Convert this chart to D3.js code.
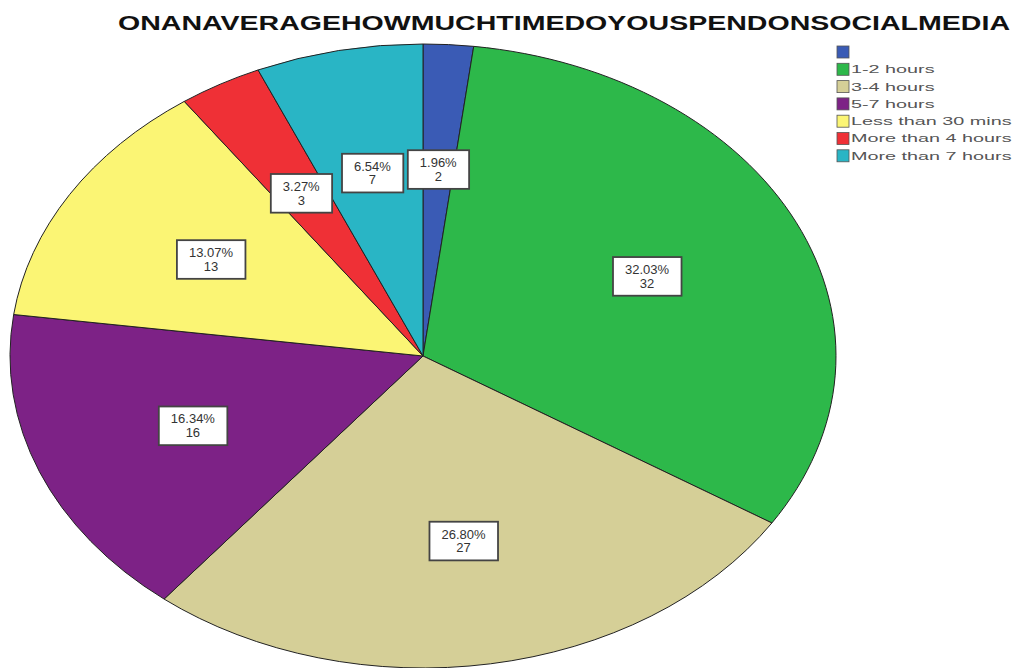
<!DOCTYPE html>
<html>
<head>
<meta charset="utf-8">
<script src="https://cdn.jsdelivr.net/npm/d3@7"></script>
<style>
  body { margin: 0; background: #fff; }
  text { font-family: Arial, "Liberation Sans", sans-serif; }
</style>
</head>
<body>
<svg id="chart" width="1019" height="668"></svg>
<script>
// categorias e valores
const categorias = ["", "1-2 hours", "3-4 hours", "5-7 hours", "Less than 30 mins", "More than 4 hours", "More than 7 hours"];
const contagens = [2, 32, 27, 16, 13, 3, 7];
const percentuais = [1.96, 32.03, 26.80, 16.34, 13.07, 3.27, 6.54];
const cores = ["#3a5bb5", "#2db84a", "#d5cf97", "#7d2286", "#fbf574", "#ef3036", "#29b5c5"];
const titulo = "ONANAVERAGEHOWMUCHTIMEDOYOUSPENDONSOCIALMEDIA";

const svg = d3.select("#chart");

const dados = categorias.map((c, i) => ({ cat: c, n: contagens[i], pct: percentuais[i], cor: cores[i] }));

// pizza desenhada como circulo e esticada em elipse (como na imagem)
const cx = 423, cy = 356, rx = 413, ry = 312;
const r = ry;

const pie = d3.pie().value(d => d.pct).sort(null);
const arc = d3.arc().innerRadius(0).outerRadius(r);
const arcs = pie(dados);

const g = svg.append("g")
    .attr("transform", `translate(${cx},${cy}) scale(${rx / r},1)`);

g.selectAll("path")
    .data(arcs)
    .enter().append("path")
    .attr("d", arc)
    .attr("fill", d => d.data.cor)
    .attr("stroke", "#222")
    .attr("stroke-width", 1)
    .attr("vector-effect", "non-scaling-stroke");

// rotulos: caixa branca com % e contagem
const arcRotulo = d3.arc().innerRadius(r * 0.6).outerRadius(r * 0.6);
const rotulos = svg.append("g");

arcs.forEach(d => {
    const [x, y] = arcRotulo.centroid(d);
    const px = cx + x * rx / r, py = cy + y;
    const lg = rotulos.append("g").attr("transform", `translate(${px},${py})`);
    const t = lg.append("text")
        .attr("text-anchor", "middle")
        .attr("font-size", 13)
        .attr("fill", "#333");
    t.append("tspan").attr("x", 0).attr("dy", "-0.15em").text(d.data.pct.toFixed(2) + "%");
    t.append("tspan").attr("x", 0).attr("dy", "1.05em").text(d.data.n);
    const bb = t.node().getBBox();
    lg.insert("rect", "text")
        .attr("x", bb.x - 12)
        .attr("y", bb.y - 5)
        .attr("width", bb.width + 24)
        .attr("height", bb.height + 10)
        .attr("fill", "#fff")
        .attr("stroke", "#444")
        .attr("stroke-width", 1.8);
});

// titulo
svg.append("text")
    .attr("x", 118)
    .attr("y", 30)
    .attr("font-size", 20)
    .attr("font-weight", "bold")
    .attr("fill", "#111")
    .attr("textLength", 892)
    .attr("lengthAdjust", "spacingAndGlyphs")
    .text(titulo);

// legenda
const leg = svg.append("g").attr("transform", "translate(837,46)");
const item = leg.selectAll("g")
    .data(dados)
    .enter().append("g")
    .attr("transform", (d, i) => `translate(0,${i * 17.3})`);

item.append("rect")
    .attr("width", 12)
    .attr("height", 12)
    .attr("fill", d => d.cor)
    .attr("stroke", "#555")
    .attr("stroke-width", 0.8);

item.append("text")
    .attr("x", 14)
    .attr("y", 10)
    .attr("font-size", 11)
    .attr("fill", "#555")
    .attr("transform", "scale(1.8,1)")
    .attr("transform-origin", "14 0")
    .text(d => d.cat);
</script>
</body>
</html>
